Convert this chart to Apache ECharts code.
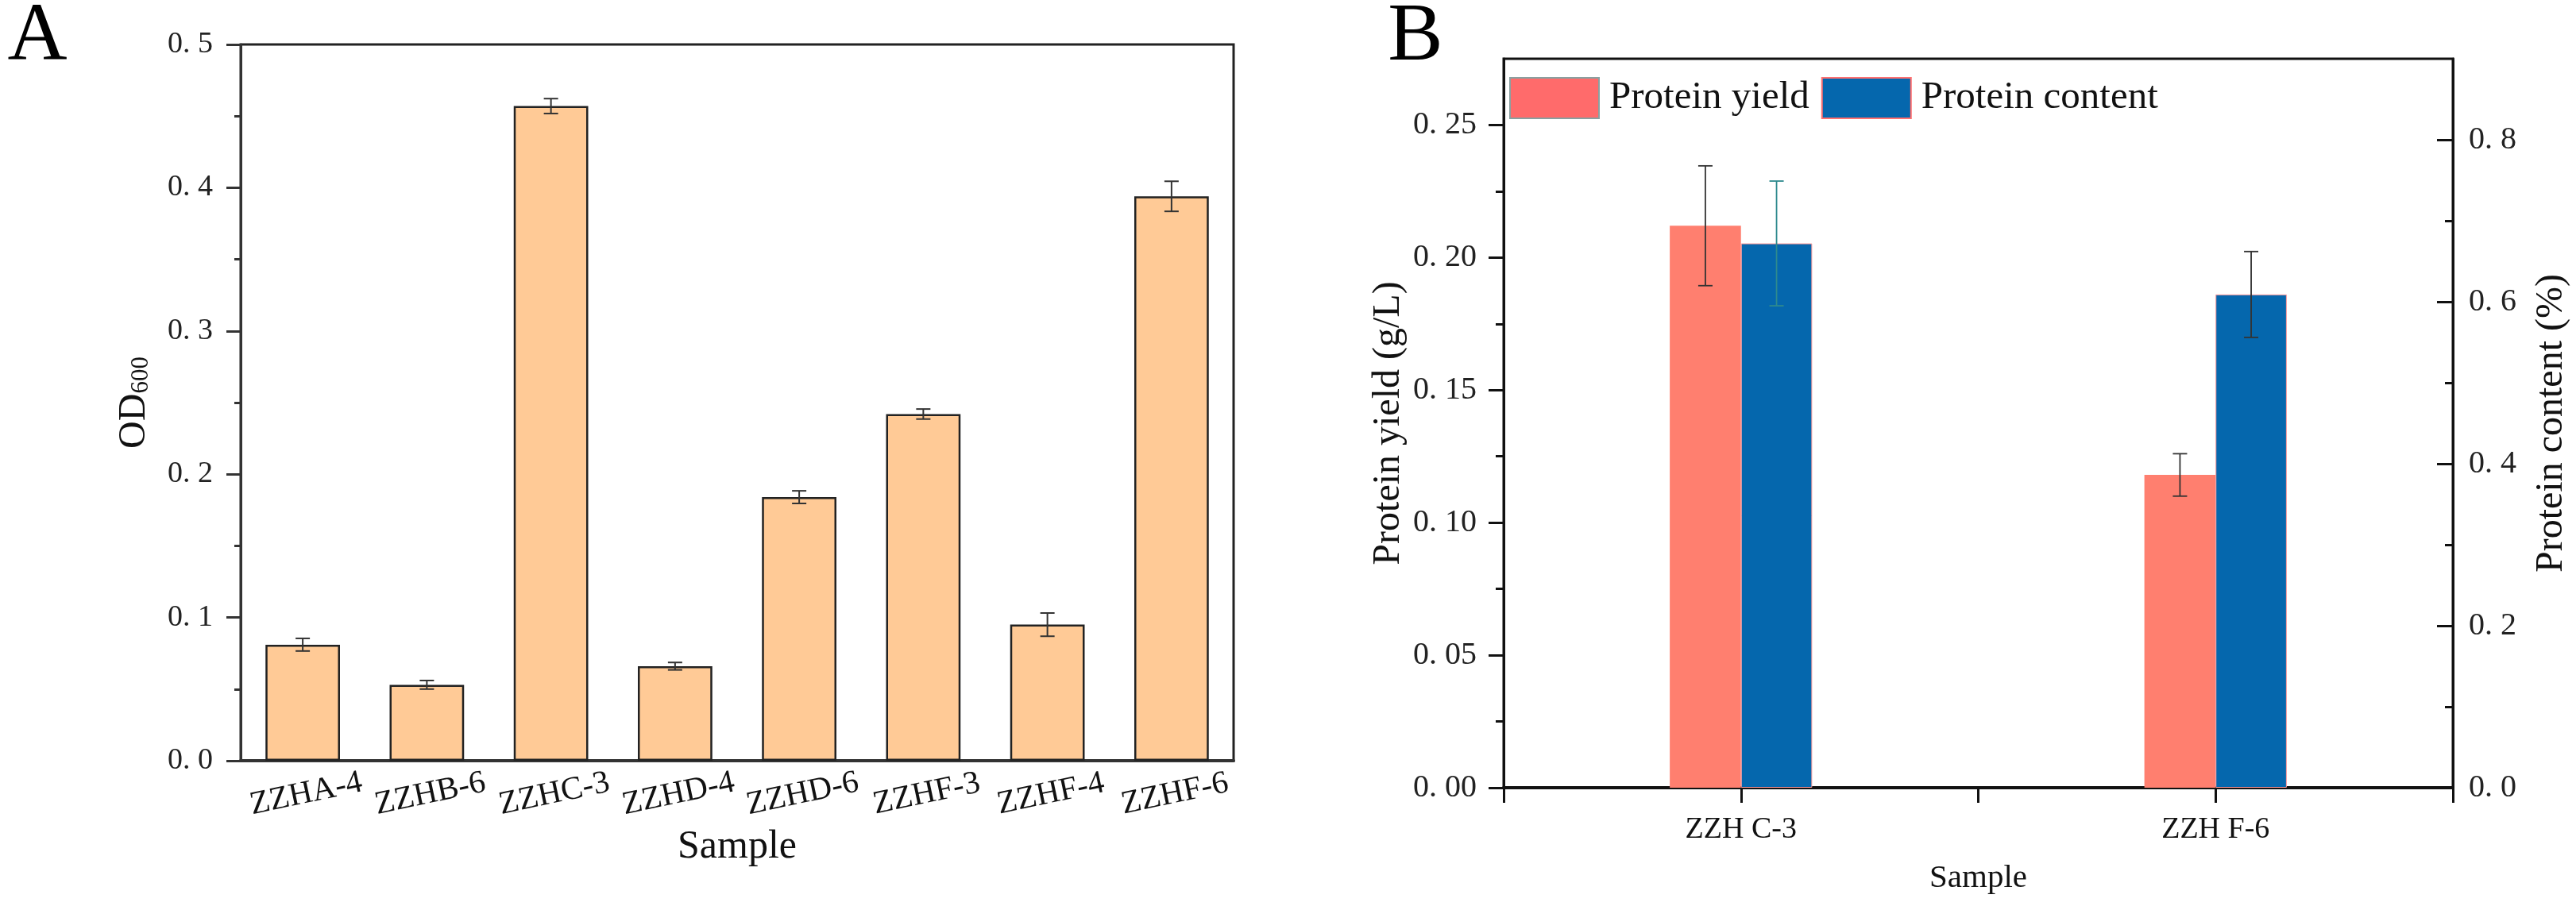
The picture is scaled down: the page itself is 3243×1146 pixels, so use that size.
<!DOCTYPE html>
<html><head><meta charset="utf-8">
<script src="https://cdn.jsdelivr.net/npm/echarts@6/dist/echarts.min.js"></script>
<style>html,body{margin:0;padding:0;background:#fff}#c{width:3243px;height:1146px}</style>
</head><body><div id="c"></div>
<script>
// ---- data ----
const samplesA = ['ZZHA-4','ZZHB-6','ZZHC-3','ZZHD-4','ZZHD-6','ZZHF-3','ZZHF-4','ZZHF-6'];
const od600 = [0.081, 0.053, 0.457, 0.066, 0.184, 0.242, 0.095, 0.394];
const od600Err = [0.0044, 0.003, 0.0052, 0.0026, 0.0044, 0.0035, 0.0081, 0.0105];
const samplesB = ['ZZH C-3','ZZH F-6'];
const proteinYield = [0.212, 0.118];
const proteinYieldErr = [0.0226, 0.008];
const proteinContent = [0.672, 0.609];
const proteinContentErr = [0.077, 0.053];
const odTicks = [0, 0.1, 0.2, 0.3, 0.4, 0.5];
const yieldTicks = [0, 0.05, 0.10, 0.15, 0.20, 0.25];
const contentTicks = [0, 0.2, 0.4, 0.6, 0.8];

const FONT = "'Liberation Serif', 'Times New Roman', serif";
const fmt = d => v => v.toFixed(d).replace('.', '. ');

function errRender(offsetFrac, capHalf, colors, lw) {
  return function (params, api) {
    const i = api.value(0), v = api.value(1), e = api.value(2);
    const band = api.size([1, 0])[0];
    const top = api.coord([i, v + e]);
    const bot = api.coord([i, v - e]);
    const x = top[0] + offsetFrac * band;
    const st = { stroke: colors[params.dataIndex % colors.length], lineWidth: lw };
    return { type: 'group', children: [
      { type: 'line', shape: { x1: x, y1: top[1], x2: x, y2: bot[1] }, style: st },
      { type: 'line', shape: { x1: x - capHalf, y1: top[1], x2: x + capHalf, y2: top[1] }, style: st },
      { type: 'line', shape: { x1: x - capHalf, y1: bot[1], x2: x + capHalf, y2: bot[1] }, style: st }
    ]};
  };
}
const triples = (vals, errs) => vals.map((v, i) => [i, v, errs[i]]);

const chart = echarts.init(document.getElementById('c'), null, { renderer: 'canvas' });
chart.setOption({
  animation: false,
  backgroundColor: '#fff',
  textStyle: { fontFamily: FONT },
  graphic: [
    { type: 'text', x: 47, y: 48, style: { text: 'A', fontSize: 104, fontFamily: FONT, fill: '#000', align: 'center', verticalAlign: 'middle' } },
    { type: 'text', x: 1782, y: 48, style: { text: 'B', fontSize: 104, fontFamily: FONT, fill: '#000', align: 'center', verticalAlign: 'middle' } }
  ],
  legend: {
    left: 1900, top: 97, padding: 0, itemWidth: 112, itemHeight: 51, itemGap: 15, icon: 'rect',
    textStyle: { fontFamily: FONT, fontSize: 49, color: '#111', padding: [0, 0, 0, 8] },
    data: [
      { name: 'Protein yield', itemStyle: { color: '#ff6b6b', borderColor: '#8aa0a0', borderWidth: 2 } },
      { name: 'Protein content', itemStyle: { color: '#0567ad', borderColor: '#ff7070', borderWidth: 2 } }
    ]
  },
  grid: [
    { left: 303, top: 56, width: 1250, height: 902, show: true, borderColor: '#222', borderWidth: 3, containLabel: false, outerBoundsMode: 'none' },
    { left: 1893, top: 74, width: 1195, height: 918, show: true, borderColor: '#111', borderWidth: 3, containLabel: false, outerBoundsMode: 'none' }
  ],
  xAxis: [
    { gridIndex: 0, type: 'category', data: samplesA,
      axisLine: { lineStyle: { color: '#333', width: 4 } }, axisTick: { show: false },
      axisLabel: { rotate: 12, align: 'center', verticalAlign: 'top', margin: 22, fontSize: 41, fontFamily: FONT, color: '#111', interval: 0 },
      name: 'Sample', nameLocation: 'middle', nameGap: 84, nameTextStyle: { fontSize: 50, fontFamily: FONT, color: '#111' } },
    { gridIndex: 1, type: 'category', data: samplesB,
      axisLine: { lineStyle: { color: '#111', width: 4 } },
      axisTick: { show: true, interval: 0, alignWithLabel: false, length: 19, lineStyle: { width: 3, color: '#111' } },
      axisLabel: { margin: 34, fontSize: 38, fontFamily: FONT, color: '#111' },
      name: 'Sample', nameLocation: 'middle', nameGap: 94, nameTextStyle: { fontSize: 41, fontFamily: FONT, color: '#111' } },
    { gridIndex: 1, type: 'category', data: samplesB, position: 'bottom',
      axisLine: { show: false }, axisLabel: { show: false },
      axisTick: { show: true, interval: 0, alignWithLabel: true, length: 19, lineStyle: { width: 3, color: '#111' } } }
  ],
  yAxis: [
    { gridIndex: 0, type: 'value', min: odTicks[0], max: odTicks[odTicks.length - 1], interval: 0.1,
      axisLine: { show: true, lineStyle: { color: '#333', width: 3 } },
      axisTick: { show: true, length: 18, lineStyle: { width: 3, color: '#333' } },
      minorTick: { show: true, splitNumber: 2, length: 8, lineStyle: { width: 3, color: '#333' } },
      splitLine: { show: false },
      axisLabel: { formatter: fmt(1), fontSize: 38, fontFamily: FONT, margin: 35, color: '#222' },
      name: '{a|OD}{b|600}', nameLocation: 'middle', nameRotate: 90, nameGap: 110,
      nameTextStyle: { rich: {
        a: { fontSize: 48, fontFamily: FONT, color: '#111', verticalAlign: 'top', lineHeight: 48 },
        b: { fontSize: 31, fontFamily: FONT, color: '#111', verticalAlign: 'bottom', lineHeight: 31, padding: [30, 0, 0, 0] }
      } } },
    { gridIndex: 1, type: 'value', min: 0, max: 0.275, interval: 0.05,
      axisLine: { show: true, lineStyle: { color: '#111', width: 3 } },
      axisTick: { show: true, length: 19, customValues: yieldTicks, lineStyle: { width: 3, color: '#111' } },
      minorTick: { show: true, splitNumber: 2, length: 10, lineStyle: { width: 3, color: '#111' } },
      splitLine: { show: false },
      axisLabel: { customValues: yieldTicks, formatter: fmt(2), fontSize: 40, fontFamily: FONT, margin: 34, color: '#222' },
      name: 'Protein yield (g/L)', nameLocation: 'middle', nameRotate: 90, nameGap: 121,
      nameTextStyle: { fontSize: 48, fontFamily: FONT, color: '#111' } },
    { gridIndex: 1, type: 'value', position: 'right', min: 0, max: 0.9, interval: 0.2,
      axisLine: { show: true, lineStyle: { color: '#111', width: 3 } },
      axisTick: { show: true, inside: true, length: 20, customValues: contentTicks, lineStyle: { width: 3, color: '#111' } },
      minorTick: { show: true, splitNumber: 2, length: 10, lineStyle: { width: 3, color: '#111' } },
      splitLine: { show: false },
      axisLabel: { customValues: contentTicks, formatter: fmt(1), fontSize: 40, fontFamily: FONT, margin: 20, color: '#222' },
      name: 'Protein content (%)', nameLocation: 'middle', nameRotate: 90, nameGap: 100,
      nameTextStyle: { fontSize: 48, fontFamily: FONT, color: '#111' } }
  ],
  series: [
    { type: 'bar', xAxisIndex: 0, yAxisIndex: 0, data: od600, barWidth: '60%',
      itemStyle: { color: '#ffca96', borderColor: '#222', borderWidth: 2.5 } },
    { type: 'custom', xAxisIndex: 0, yAxisIndex: 0, z: 10, encode: { x: 0, y: 1 },
      renderItem: errRender(0, 9, ['#333'], 2), data: triples(od600, od600Err) },
    { type: 'bar', name: 'Protein yield', xAxisIndex: 1, yAxisIndex: 1, data: proteinYield,
      barWidth: '15%', barGap: '0%', itemStyle: { color: '#ff7f6f' } },
    { type: 'bar', name: 'Protein content', xAxisIndex: 1, yAxisIndex: 2, data: proteinContent,
      barWidth: '15%', barGap: '0%', itemStyle: { color: '#0567ad', borderColor: '#ff9a9a', borderWidth: 1 } },
    { type: 'custom', xAxisIndex: 1, yAxisIndex: 1, z: 10, encode: { x: 0, y: 1 },
      renderItem: errRender(-0.075, 9, ['#333'], 1.8), data: triples(proteinYield, proteinYieldErr) },
    { type: 'custom', xAxisIndex: 1, yAxisIndex: 2, z: 10, encode: { x: 0, y: 1 },
      renderItem: errRender(0.075, 9, ['#2e8a8e', '#333'], 1.8), data: triples(proteinContent, proteinContentErr) }
  ]
});
</script></body></html>
